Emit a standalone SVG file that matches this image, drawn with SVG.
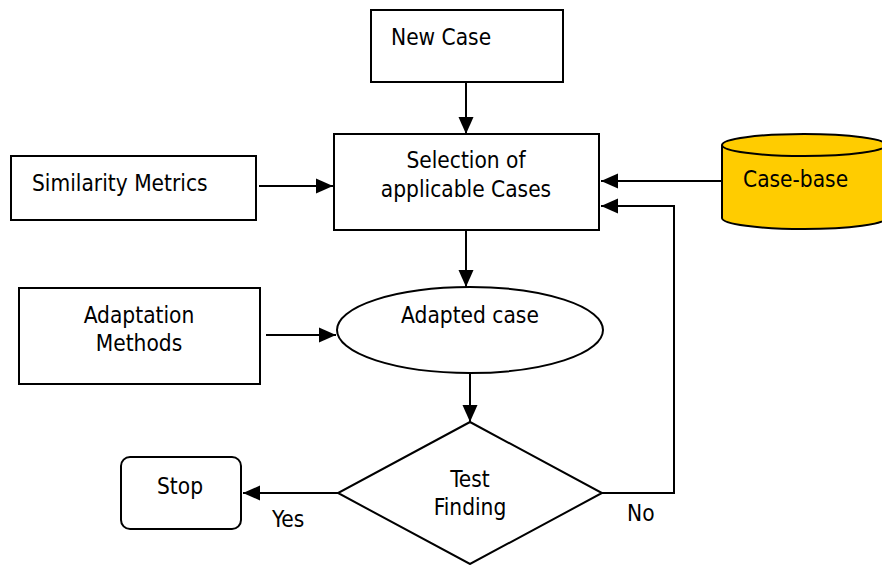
<svg xmlns="http://www.w3.org/2000/svg" width="882" height="565" viewBox="0 0 882 565">
<style>
.box{fill:#fff;stroke:#000;stroke-width:2}
.t{font-family:"DejaVu Sans Condensed","DejaVu Sans",Verdana,sans-serif;font-stretch:condensed;font-size:22.5px;fill:#000}
.c{text-anchor:middle}
.ln{fill:none;stroke:#000;stroke-width:2;marker-end:url(#ah)}
</style>
<defs>
<marker id="ah" markerUnits="userSpaceOnUse" markerWidth="18" markerHeight="16" refX="17" refY="8" orient="auto">
<path d="M0,0.5 L17,8 L0,15.5 z" fill="#000"/>
</marker>
</defs>
<rect width="882" height="565" fill="#fff"/>
<g id="new-case">
<rect class="box" x="371" y="10" width="192" height="72"/>
<text class="t" x="391" y="45">New Case</text>
</g>
<g id="selection">
<rect class="box" x="334" y="134" width="265" height="96"/>
<text class="t c" x="466" y="168">Selection of</text>
<text class="t c" x="466" y="197">applicable Cases</text>
</g>
<g id="case-base">
<path d="M722,145 L722,218 A82,11 0 0 0 886,218 L886,145" fill="#ffcc00" stroke="#000" stroke-width="2"/>
<ellipse cx="804" cy="145" rx="82" ry="11" fill="#ffcc00" stroke="#000" stroke-width="2"/>
<text class="t" x="743" y="187">Case-base</text>
</g>
<g id="similarity">
<rect class="box" x="11" y="156" width="245" height="64"/>
<text class="t" x="32" y="191">Similarity Metrics</text>
</g>
<g id="adaptation">
<rect class="box" x="19" y="288" width="241" height="96"/>
<text class="t c" x="139" y="323">Adaptation</text>
<text class="t c" x="139" y="351">Methods</text>
</g>
<g id="adapted-case">
<ellipse cx="470" cy="330" rx="133" ry="43" fill="#fff" stroke="#000" stroke-width="2"/>
<text class="t c" x="470" y="323">Adapted case</text>
</g>
<g id="test">
<polygon points="470,422 602,493 470,564 338,493" fill="#fff" stroke="#000" stroke-width="2"/>
<text class="t c" x="470" y="487">Test</text>
<text class="t c" x="470" y="515">Finding</text>
</g>
<g id="stop">
<rect class="box" x="121" y="457" width="120" height="72" rx="9"/>
<text class="t c" x="180" y="494">Stop</text>
</g>
<g id="connectors">
<line class="ln" x1="466" y1="82" x2="466" y2="134"/>
<line class="ln" x1="259" y1="186" x2="333" y2="186"/>
<line class="ln" x1="722" y1="181" x2="601" y2="181"/>
<polyline class="ln" points="602,493 674,493 674,206 601,206"/>
<line class="ln" x1="466" y1="230" x2="466" y2="287"/>
<line class="ln" x1="266" y1="335" x2="336" y2="335"/>
<line class="ln" x1="470" y1="373" x2="470" y2="422"/>
<line class="ln" x1="338" y1="493" x2="243" y2="493"/>
<text class="t" x="272" y="527">Yes</text>
<text class="t" x="627" y="521">No</text>
</g>
</svg>
